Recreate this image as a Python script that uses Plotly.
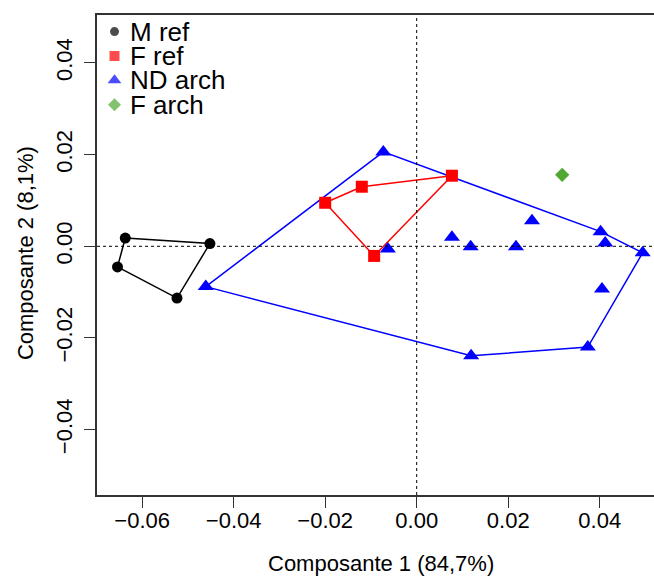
import plotly.graph_objects as go

# ---- data ----
groups = ["M ref", "F ref", "ND arch", "F arch"]
colors = ["#000000", "#FF0000", "#0000FF", "#4FA831"]
symbols = ["circle", "square", "triangle-up", "diamond"]

m_ref_x = [-0.0637, -0.0452, -0.0524, -0.0654]
m_ref_y = [0.0018, 0.0006, -0.0113, -0.0045]

f_ref_x = [-0.0200, -0.0120, 0.0077, -0.0093]
f_ref_y = [0.0095, 0.0130, 0.0154, -0.0021]

nd_x = [-0.0073, -0.0063, 0.0077, 0.0118, 0.0217, 0.0252, 0.0402, 0.0412,
        0.0494, 0.0405, 0.0374, 0.0119, -0.0461]
nd_y = [0.0206, -0.0006, 0.0020, -0.0001, -0.0001, 0.0056, 0.0032, 0.0007,
        -0.0014, -0.0093, -0.0220, -0.0239, -0.0088]

f_arch_x = [0.0318]
f_arch_y = [0.0156]

# convex hull vertex orders (indices into each group)
m_hull = [0, 1, 2, 3, 0]
f_hull = [0, 1, 2, 3, 0]
nd_hull = [12, 0, 6, 8, 10, 11, 12]

xticks = [-0.06, -0.04, -0.02, 0.00, 0.02, 0.04]
yticks = [-0.04, -0.02, 0.00, 0.02, 0.04]
xlabel = "Composante 1 (84,7%)"
ylabel = "Composante 2 (8,1%)"

FONT = "Liberation Sans, Arial, sans-serif"

fig = go.Figure()

# hulls
for xs, ys, hull, col in [(m_ref_x, m_ref_y, m_hull, colors[0]),
                          (f_ref_x, f_ref_y, f_hull, colors[1]),
                          (nd_x, nd_y, nd_hull, colors[2])]:
    fig.add_trace(go.Scatter(x=[xs[i] for i in hull], y=[ys[i] for i in hull],
                             mode="lines", line=dict(color=col, width=1.5),
                             showlegend=False, hoverinfo="skip"))

sizes = [11, 12, 14, 11]
for xs, ys, name, col, sym, sz in zip([m_ref_x, f_ref_x, nd_x, f_arch_x],
                                      [m_ref_y, f_ref_y, nd_y, f_arch_y],
                                      groups, colors, symbols, sizes):
    fig.add_trace(go.Scatter(x=xs, y=ys, mode="markers", name=name,
                             marker=dict(color=col, symbol=sym, size=sz, line=dict(width=0)),
                             showlegend=False))

# manual legend on an overlay axis (layout units)
leg_sizes = [9, 10, 12, 10]
leg_y = [i for i in range(len(groups))]
fig.add_trace(go.Scatter(x=[0] * len(groups), y=leg_y, mode="markers",
                         marker=dict(color=colors, symbol=symbols, size=leg_sizes, line=dict(width=0)),
                         xaxis="x2", yaxis="y2", showlegend=False, hoverinfo="skip"))
for i, g in enumerate(groups):
    fig.add_annotation(x=0.55, y=leg_y[i], xref="x2", yref="y2", text=g,
                       showarrow=False, xanchor="left", yanchor="middle",
                       font=dict(size=26, color="black", family=FONT))

# dashed reference lines
fig.add_shape(type="line", xref="x", yref="paper", x0=0, x1=0, y0=0, y1=1,
              line=dict(color="black", width=1, dash="3px,3px"))
fig.add_shape(type="line", xref="paper", yref="y", x0=0, x1=1, y0=0, y1=0,
              line=dict(color="black", width=1, dash="3px,3px"))

# axis titles
fig.add_annotation(x=0.509, y=-0.142, xref="paper", yref="paper", text=xlabel,
                   showarrow=False, xanchor="center", yanchor="middle",
                   font=dict(size=22, color="black", family=FONT))
fig.add_annotation(x=-0.1292, y=0.504, xref="paper", yref="paper", text=ylabel,
                   showarrow=False, textangle=-90, xanchor="center", yanchor="middle",
                   font=dict(size=22, color="black", family=FONT))

fig.update_layout(
    width=654, height=577,
    margin=dict(l=97, r=0, t=15, b=82, autoexpand=False),
    paper_bgcolor="white", plot_bgcolor="white",
    font=dict(family=FONT, size=22, color="black"),
    showlegend=False,
    xaxis=dict(range=[-0.06988, 0.05187], tickvals=xticks, tickformat=".2f",
               showgrid=False, zeroline=False, showline=True, linecolor="#333333",
               linewidth=1.5, mirror=True, ticks="outside", ticklen=11, tickwidth=1.2,
               tickcolor="#333333", tickfont=dict(size=22), automargin=False,
               ticklabelstandoff=-6),
    yaxis=dict(range=[-0.05427, 0.05047], tickvals=yticks, tickformat=".2f",
               showgrid=False, zeroline=False, showline=True, linecolor="#333333",
               linewidth=1.5, mirror=False, ticks="outside", ticklen=11, tickwidth=1.2,
               tickcolor="#333333", tickangle=-90, tickfont=dict(size=22), automargin=False,
               ticklabelstandoff=3),
    xaxis2=dict(overlaying="x", range=[-0.72, 22.18], visible=False, fixedrange=True),
    yaxis2=dict(overlaying="y", range=[19.0, -0.68], visible=False, fixedrange=True),
)

fig.write_html("out.html", config={"displayModeBar": False},
               post_script="document.body.style.margin='0px';")
